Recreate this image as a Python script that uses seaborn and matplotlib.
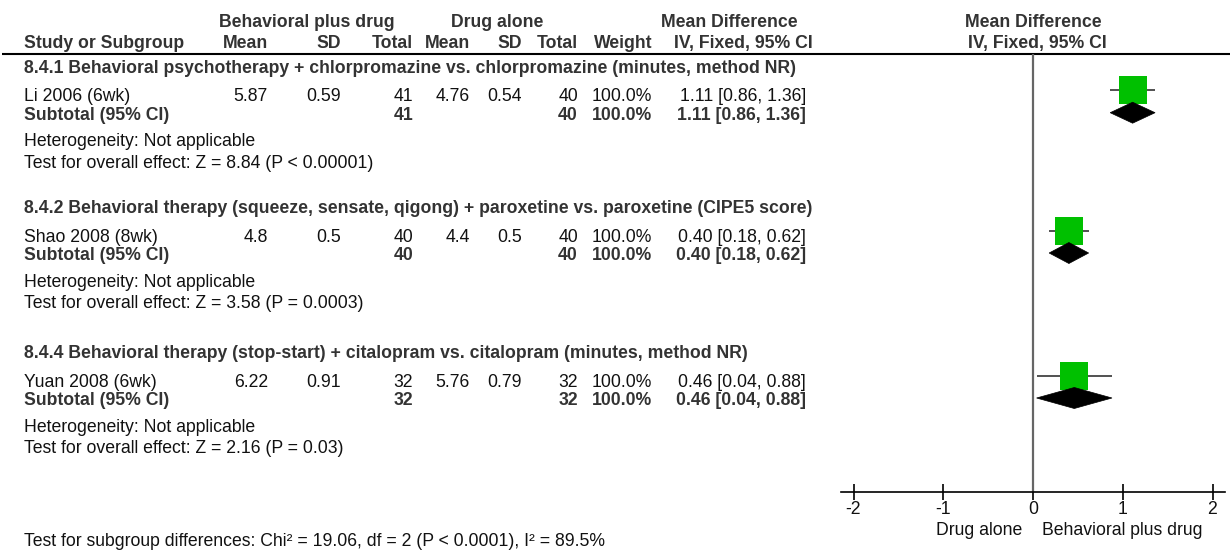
import matplotlib
matplotlib.use("Agg")
import matplotlib.pyplot as plt
from matplotlib.patches import Polygon
import seaborn as sns
import pandas as pd

# ---- data -------------------------------------------------------------
subgroups = [
    "8.4.1 Behavioral psychotherapy + chlorpromazine vs. chlorpromazine (minutes, method NR)",
    "8.4.2 Behavioral therapy (squeeze, sensate, qigong) + paroxetine vs. paroxetine (CIPE5 score)",
    "8.4.4 Behavioral therapy (stop-start) + citalopram vs. citalopram (minutes, method NR)",
]
studies = ["Li 2006 (6wk)", "Shao 2008 (8wk)", "Yuan 2008 (6wk)"]
exp_mean = [5.87, 4.8, 6.22]
exp_sd = [0.59, 0.5, 0.91]
exp_n = [41, 40, 32]
ctl_mean = [4.76, 4.4, 5.76]
ctl_sd = [0.54, 0.5, 0.79]
ctl_n = [40, 40, 32]
weight = [100.0, 100.0, 100.0]
md = [1.11, 0.40, 0.46]
ci_lo = [0.86, 0.18, 0.04]
ci_hi = [1.36, 0.62, 0.88]
z_values = [8.84, 3.58, 2.16]
p_text = ["P < 0.00001", "P = 0.0003", "P = 0.03"]
x_ticks = [-2, -1, 0, 1, 2]
favours = ["Drug alone", "Behavioral plus drug"]
subgroup_test = "Test for subgroup differences: Chi\u00b2 = 19.06, df = 2 (P < 0.0001), I\u00b2 = 89.5%"

# ---- style ------------------------------------------------------------
sns.set_theme(style="white")
plt.rcParams["font.family"] = ["Liberation Sans", "DejaVu Sans"]
plt.rcParams["axes.unicode_minus"] = False

FS = 12.7
BOLD_C = "#333333"
TEXT_C = "#111111"

W, H = 1230, 550
fig = plt.figure(figsize=(W / 100, H / 100), dpi=100)

# text layer in pixel coordinates
ax_t = fig.add_axes([0, 0, 1, 1])
ax_t.set_xlim(0, W)
ax_t.set_ylim(H, 0)
ax_t.axis("off")


def txt(x, y, s, ha="left", bold=False):
    ax_t.text(x, y, s, ha=ha, va="baseline", fontsize=FS,
              fontweight="bold" if bold else "normal",
              color=BOLD_C if bold else TEXT_C)


# column right edges
LEFT = 24
C_EM, C_ESD, C_EN = 268, 341, 413
C_CM, C_CSD, C_CN = 470, 522, 578
C_W, C_CI = 652, 806

# header
txt(307, 26.7, "Behavioral plus drug", ha="center", bold=True)
txt(497, 26.7, "Drug alone", ha="center", bold=True)
txt(729, 26.7, "Mean Difference", ha="center", bold=True)
txt(1033, 26.7, "Mean Difference", ha="center", bold=True)
txt(LEFT, 48.3, "Study or Subgroup", bold=True)
for x, s in [(C_EM, "Mean"), (C_ESD, "SD"), (C_EN, "Total"),
             (C_CM, "Mean"), (C_CSD, "SD"), (C_CN, "Total"), (C_W, "Weight")]:
    txt(x, 48.3, s, ha="right", bold=True)
txt(743, 48.3, "IV, Fixed, 95% CI", ha="center", bold=True)
txt(1037, 48.3, "IV, Fixed, 95% CI", ha="center", bold=True)
ax_t.plot([2, W], [54, 54], color="black", lw=1.5, solid_capstyle="butt")

# subgroup blocks
block_top = [73.0, 213.3, 358.3]
study_y, diamond_y = [], []
for i in range(3):
    b = block_top[i]
    txt(LEFT, b, subgroups[i], bold=True)
    ys = b + 28.4
    txt(LEFT, ys, studies[i])
    txt(C_EM, ys, f"{exp_mean[i]:g}", ha="right")
    txt(C_ESD, ys, f"{exp_sd[i]:g}", ha="right")
    txt(C_EN, ys, f"{exp_n[i]}", ha="right")
    txt(C_CM, ys, f"{ctl_mean[i]:g}", ha="right")
    txt(C_CSD, ys, f"{ctl_sd[i]:g}", ha="right")
    txt(C_CN, ys, f"{ctl_n[i]}", ha="right")
    txt(C_W, ys, f"{weight[i]:.1f}%", ha="right")
    txt(C_CI, ys, f"{md[i]:.2f} [{ci_lo[i]:.2f}, {ci_hi[i]:.2f}]", ha="right")
    yt = b + 46.7
    txt(LEFT, yt, "Subtotal (95% CI)", bold=True)
    txt(C_EN, yt, f"{exp_n[i]}", ha="right", bold=True)
    txt(C_CN, yt, f"{ctl_n[i]}", ha="right", bold=True)
    txt(C_W, yt, f"{weight[i]:.1f}%", ha="right", bold=True)
    txt(C_CI, yt, f"{md[i]:.2f} [{ci_lo[i]:.2f}, {ci_hi[i]:.2f}]", ha="right", bold=True)
    txt(LEFT, b + 73.4, "Heterogeneity: Not applicable")
    txt(LEFT, b + 95.0, f"Test for overall effect: Z = {z_values[i]:.2f} ({p_text[i]})")
    study_y.append(ys - 11)
    diamond_y.append(yt - 7)

txt(LEFT, 546.5, subgroup_test)
txt(1022, 535, favours[0], ha="right")
txt(1042, 535, favours[1], ha="left")

# ---- forest panel -------------------------------------------------------
x0_px, px_per_unit = 1033, 89.75
ax_l, ax_r, ax_top, ax_bot = 841, 1225, 54, 492
axf = fig.add_axes([ax_l / W, (H - ax_bot) / H, (ax_r - ax_l) / W, (ax_bot - ax_top) / H])
axf.set_xlim((ax_l - x0_px) / px_per_unit, (ax_r - x0_px) / px_per_unit)
axf.set_ylim(ax_bot, ax_top)
axf.patch.set_alpha(0)

axf.axvline(0, color="#666666", lw=1.6, zorder=1)
axf.hlines(study_y, ci_lo, ci_hi, color="#333333", lw=1.2, zorder=2)

df = pd.DataFrame({"md": md, "y": study_y})
sns.scatterplot(data=df, x="md", y="y", marker="s", s=378, color="#00C000",
                linewidth=0, ax=axf, zorder=3, legend=False)

half_h = 10.5
for m, lo, hi, y in zip(md, ci_lo, ci_hi, diamond_y):
    axf.add_patch(Polygon([(lo, y), (m, y - half_h), (hi, y), (m, y + half_h)],
                          closed=True, facecolor="black", edgecolor="black",
                          lw=0.5, zorder=4))

for side in ["top", "left", "right"]:
    axf.spines[side].set_visible(False)
axf.spines["bottom"].set_color("black")
axf.spines["bottom"].set_linewidth(1.2)
axf.set_xticks(x_ticks)
axf.set_xticklabels([str(t) for t in x_ticks])
axf.set_yticks([])
axf.set_xlabel("")
axf.set_ylabel("")
axf.tick_params(axis="x", direction="inout", length=11, width=1.2, colors="black",
                labelsize=FS, pad=1, bottom=True)
for lab in axf.get_xticklabels():
    lab.set_color(TEXT_C)

fig.savefig("out.png", dpi=100)
